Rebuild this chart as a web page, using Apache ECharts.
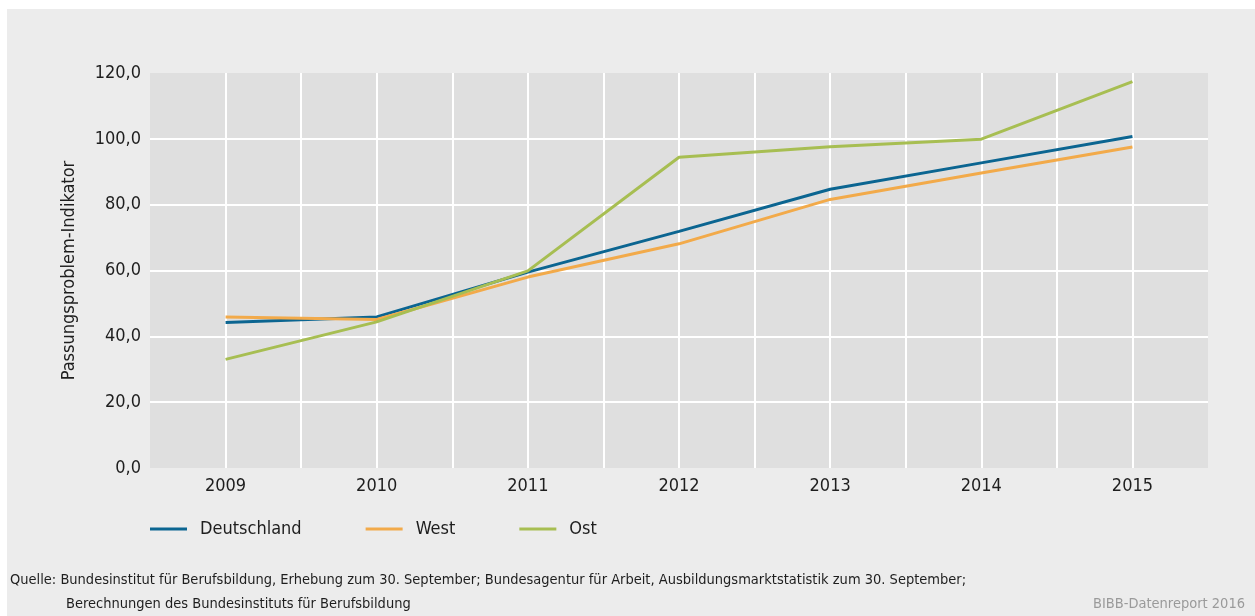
<!DOCTYPE html>
<html>
<head>
<meta charset="utf-8">
<script src="https://cdn.jsdelivr.net/npm/echarts@6/dist/echarts.min.js"></script>
<style>
  html, body { margin: 0; padding: 0; background: #ffffff; }
  #chart { width: 1255px; height: 616px; }
</style>
</head>
<body>
<div id="chart"></div>
<script>
const FONT = '"Liberation Sans Narrow", "DejaVu Sans Condensed", "Roboto", sans-serif';

// data
const years = [2009, 2010, 2011, 2012, 2013, 2014, 2015];
const deutschland = [44.2, 45.9, 59.5, 71.9, 84.7, 92.7, 100.7];
const west = [45.9, 45.1, 58.0, 68.1, 81.6, 89.6, 97.5];
const ost = [33.0, 44.4, 59.9, 94.4, 97.6, 99.9, 117.4];
const seriesNames = ['Deutschland', 'West', 'Ost'];
const colors = ['#0b6591', '#f2aa4a', '#a7be52'];

const yAxisName = 'Passungsproblem-Indikator';
const sourceLine1 = 'Quelle: Bundesinstitut für Berufsbildung, Erhebung zum 30. September; Bundesagentur für Arbeit, Ausbildungsmarktstatistik zum 30. September;';
const sourceLine2 = 'Berechnungen des Bundesinstituts für Berufsbildung';
const credit = 'BIBB-Datenreport 2016';

const chart = echarts.init(document.getElementById('chart'));

function pairs(values) {
  return years.map((y, i) => [y, values[i]]);
}

const lines = [deutschland, west, ost].map((values, i) => ({
  name: seriesNames[i],
  type: 'line',
  symbol: 'none',
  data: pairs(values),
  lineStyle: { width: 3, color: colors[i] },
  itemStyle: { color: colors[i] },
  emphasis: { disabled: true }
}));

chart.setOption({
  animation: false,
  backgroundColor: '#ececec',
  textStyle: { fontFamily: FONT },
  grid: {
    left: 150,
    right: 47,
    top: 73,
    bottom: 148,
    show: true,
    backgroundColor: '#dfdfdf',
    borderWidth: 0
  },
  xAxis: {
    type: 'value',
    min: 2008.5,
    max: 2015.5,
    interval: 0.5,
    axisLine: { show: false },
    axisTick: { show: false },
    axisLabel: {
      color: '#1e1e1e',
      fontSize: 18,
      fontFamily: FONT,
      margin: 9,
      formatter: (v) => (Number.isInteger(v) ? String(v) : '')
    },
    splitLine: {
      show: true,
      showMinLine: false,
      showMaxLine: false,
      lineStyle: { color: '#ffffff', width: 2 }
    }
  },
  yAxis: {
    type: 'value',
    min: 0,
    max: 120,
    interval: 20,
    name: yAxisName,
    nameLocation: 'middle',
    nameRotate: 90,
    nameGap: 72,
    nameTextStyle: { color: '#1e1e1e', fontSize: 18, fontFamily: FONT },
    axisLine: { show: false },
    axisTick: { show: false },
    axisLabel: {
      color: '#1e1e1e',
      fontSize: 18,
      fontFamily: FONT,
      margin: 9,
      formatter: (v) => v.toFixed(1).replace('.', ',')
    },
    splitLine: {
      show: true,
      showMinLine: false,
      showMaxLine: false,
      lineStyle: { color: '#ffffff', width: 2 }
    }
  },
  legend: {
    left: 145,
    top: 515,
    icon: 'rect',
    itemWidth: 37,
    itemHeight: 3,
    itemGap: 64,
    data: seriesNames,
    textStyle: {
      color: '#1e1e1e',
      fontSize: 18,
      fontFamily: FONT,
      padding: [0, 0, 0, 8]
    }
  },
  graphic: [
    { type: 'rect', left: 0, top: 0, shape: { width: 1255, height: 9 }, style: { fill: '#ffffff' }, silent: true },
    { type: 'rect', left: 0, top: 0, shape: { width: 7, height: 616 }, style: { fill: '#ffffff' }, silent: true },
    {
      type: 'text', left: 10, top: 573,
      style: { text: sourceLine1, fill: '#1e1e1e', font: '14.5px ' + FONT }
    },
    {
      type: 'text', left: 66, top: 597,
      style: { text: sourceLine2, fill: '#1e1e1e', font: '14.5px ' + FONT }
    },
    {
      type: 'text', right: 10, top: 597,
      style: { text: credit, fill: '#9a9a9a', font: '14.5px ' + FONT }
    }
  ],
  series: lines
});
</script>
</body>
</html>
